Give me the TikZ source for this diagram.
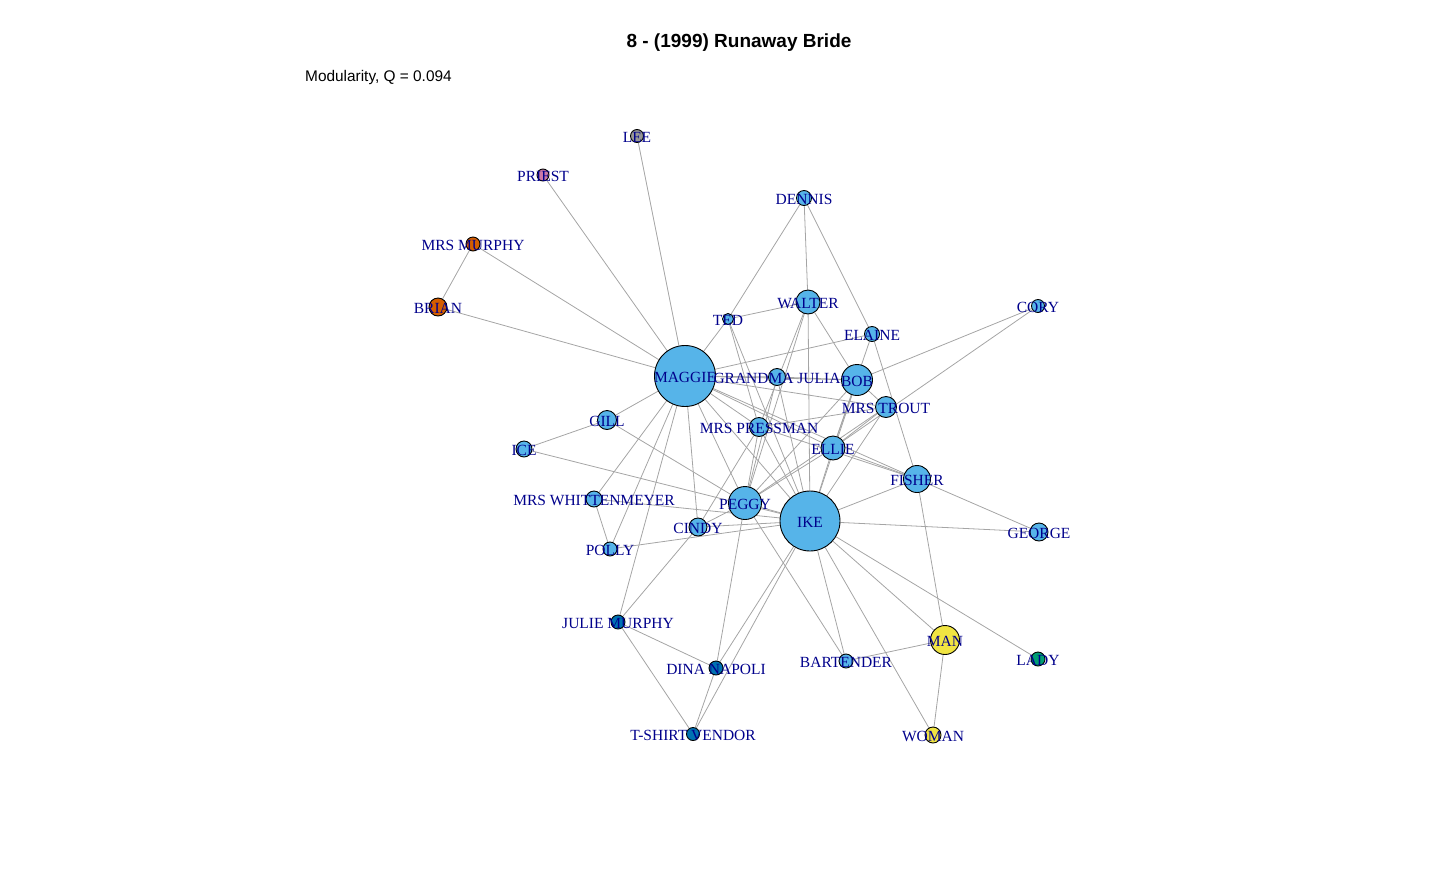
\documentclass[tikz,border=0pt]{standalone}
\usepackage{fontspec}
\setmainfont{Liberation Serif}
\newfontfamily\arialfont{Liberation Sans}
\usetikzlibrary{shapes,backgrounds}
\definecolor{skyblue}{RGB}{86,180,233}
\definecolor{deepblue}{RGB}{0,114,178}
\definecolor{vermil}{RGB}{213,94,0}
\definecolor{yell}{RGB}{240,228,66}
\definecolor{bgreen}{RGB}{0,158,115}
\definecolor{rpurple}{RGB}{204,121,167}
\definecolor{greyv}{RGB}{150,150,150}
\definecolor{edgegray}{RGB}{165,165,165}
\definecolor{lblblue}{RGB}{0,0,139}
\tikzstyle{vert}=[circle,draw=black,line width=0.9pt,inner sep=0pt]
\tikzstyle{lbl}=[text=lblblue,font=\fontsize{15.5}{18}\selectfont,inner sep=0pt,yshift=-1.5pt]
\tikzstyle{edge}=[draw=edgegray,line width=0.8pt]

\begin{document}
\begin{tikzpicture}[x=1pt,y=-1pt]
\useasboundingbox (0,0) rectangle (1440,892);
\node[font=\arialfont\bfseries\fontsize{19}{22}\selectfont] (title) at (739,42.5) {8 - (1999) Runaway Bride};
\node[anchor=west,inner sep=0pt,font=\arialfont\fontsize{15.4}{18}\selectfont] (modq) at (305,78) {Modularity, Q = 0.094};

\node[vert,fill=greyv,minimum size=13pt,label={[lbl]center:LEE}] (lee) at (637,136) {};
\node[vert,fill=rpurple,minimum size=12pt,label={[lbl]center:PRIEST}] (priest) at (543,175) {};
\node[vert,fill=vermil,minimum size=14pt,label={[lbl]center:MRS MURPHY}] (mrsmurphy) at (473,244) {};
\node[vert,fill=vermil,minimum size=18pt,label={[lbl]center:BRIAN}] (brian) at (438,307) {};
\node[vert,fill=skyblue,minimum size=15pt,label={[lbl]center:DENNIS}] (dennis) at (804,198) {};
\node[vert,fill=skyblue,minimum size=24pt,label={[lbl]center:WALTER}] (walter) at (808,302) {};
\node[vert,fill=skyblue,minimum size=11pt,label={[lbl]center:TED}] (ted) at (728,319) {};
\node[vert,fill=skyblue,minimum size=15pt,label={[lbl]center:ELAINE}] (elaine) at (872,334) {};
\node[vert,fill=skyblue,minimum size=13pt,label={[lbl]center:CORY}] (cory) at (1038,306) {};
\node[vert,fill=skyblue,minimum size=61pt,label={[lbl]center:MAGGIE}] (maggie) at (685,376) {};
\node[vert,fill=skyblue,minimum size=17pt,label={[lbl]center:GRANDMA JULIA}] (grandma) at (777,377) {};
\node[vert,fill=skyblue,minimum size=31pt,label={[lbl]center:BOB}] (bob) at (857,380) {};
\node[vert,fill=skyblue,minimum size=21pt,label={[lbl]center:MRS TROUT}] (mrstrout) at (886,407) {};
\node[vert,fill=skyblue,minimum size=19pt,label={[lbl]center:GILL}] (gill) at (607,420) {};
\node[vert,fill=skyblue,minimum size=19pt,label={[lbl]center:MRS PRESSMAN}] (pressman) at (759,427) {};
\node[vert,fill=skyblue,minimum size=16pt,label={[lbl]center:ICE}] (ice) at (524,449) {};
\node[vert,fill=skyblue,minimum size=24pt,label={[lbl]center:ELLIE}] (ellie) at (833,448) {};
\node[vert,fill=skyblue,minimum size=27pt,label={[lbl]center:FISHER}] (fisher) at (917,479) {};
\node[vert,fill=skyblue,minimum size=16pt,label={[lbl]center:MRS WHITTENMEYER}] (whitt) at (594,499) {};
\node[vert,fill=skyblue,minimum size=33pt,label={[lbl]center:PEGGY}] (peggy) at (745,503) {};
\node[vert,fill=skyblue,minimum size=60pt,label={[lbl]center:IKE}] (ike) at (810,521) {};
\node[vert,fill=skyblue,minimum size=18pt,label={[lbl]center:CINDY}] (cindy) at (698,527) {};
\node[vert,fill=skyblue,minimum size=18pt,label={[lbl]center:GEORGE}] (george) at (1039,532) {};
\node[vert,fill=skyblue,minimum size=14pt,label={[lbl]center:POLLY}] (polly) at (610,549) {};
\node[vert,fill=deepblue,minimum size=14pt,label={[lbl]center:JULIE MURPHY}] (julie) at (618,622) {};
\node[vert,fill=yell,minimum size=29pt,label={[lbl]center:MAN}] (man) at (945,640) {};
\node[vert,fill=deepblue,minimum size=14pt,label={[lbl]center:DINA NAPOLI}] (dina) at (716,668) {};
\node[vert,fill=skyblue,minimum size=14pt,label={[lbl]center:BARTENDER}] (bartender) at (846,661) {};
\node[vert,fill=bgreen,minimum size=14pt,label={[lbl]center:LADY}] (lady) at (1038,659) {};
\node[vert,fill=deepblue,minimum size=13pt,label={[lbl]center:T-SHIRT VENDOR}] (tshirt) at (693,734) {};
\node[vert,fill=yell,minimum size=16pt,label={[lbl]center:WOMAN}] (woman) at (933,735) {};

\begin{pgfonlayer}{background}
\draw[edge] (maggie) -- (lee);
\draw[edge] (maggie) -- (priest);
\draw[edge] (maggie) -- (mrsmurphy);
\draw[edge] (maggie) -- (brian);
\draw[edge] (mrsmurphy) -- (brian);
\draw[edge] (dennis) -- (ted);
\draw[edge] (ted) -- (maggie);
\draw[edge] (dennis) -- (walter);
\draw[edge] (dennis) -- (elaine);
\draw[edge] (ted) -- (walter);
\draw[edge] (ted) -- (pressman);
\draw[edge] (ted) -- (ike);
\draw[edge] (walter) -- (bob);
\draw[edge] (walter) -- (ike);
\draw[edge] (walter) -- (peggy);
\draw[edge] (walter) -- (pressman);
\draw[edge] (maggie) -- (grandma);
\draw[edge] (maggie) -- (bob);
\draw[edge] (grandma) -- (bob);
\draw[edge] (maggie) -- (elaine);
\draw[edge] (maggie) -- (mrstrout);
\draw[edge] (maggie) -- (pressman);
\draw[edge] (maggie) -- (ellie);
\draw[edge] (maggie) -- (fisher);
\draw[edge] (maggie) -- (peggy);
\draw[edge] (maggie) -- (ike);
\draw[edge] (maggie) -- (cindy);
\draw[edge] (maggie) -- (polly);
\draw[edge] (maggie) -- (whitt);
\draw[edge] (maggie) -- (julie);
\draw[edge] (maggie) -- (gill);
\draw[edge] (elaine) -- (ellie);
\draw[edge] (elaine) -- (fisher);
\draw[edge] (bob) -- (ellie);
\draw[edge] (cory) -- (bob);
\draw[edge] (cory) -- (ellie);
\draw[edge] (bob) -- (mrstrout);
\draw[edge] (bob) -- (ike);
\draw[edge] (bob) -- (peggy);
\draw[edge] (grandma) -- (ike);
\draw[edge] (grandma) -- (peggy);
\draw[edge] (mrstrout) -- (peggy);
\draw[edge] (mrstrout) -- (ike);
\draw[edge] (mrstrout) -- (ellie);
\draw[edge] (mrstrout) -- (pressman);
\draw[edge] (pressman) -- (peggy);
\draw[edge] (pressman) -- (ike);
\draw[edge] (pressman) -- (cindy);
\draw[edge] (pressman) -- (fisher);
\draw[edge] (ellie) -- (ike);
\draw[edge] (ellie) -- (peggy);
\draw[edge] (ellie) -- (fisher);
\draw[edge] (fisher) -- (ike);
\draw[edge] (fisher) -- (george);
\draw[edge] (fisher) -- (man);
\draw[edge] (ike) -- (george);
\draw[edge] (ike) -- (man);
\draw[edge] (ike) -- (lady);
\draw[edge] (ike) -- (woman);
\draw[edge] (ike) -- (bartender);
\draw[edge] (ike) -- (dina);
\draw[edge] (ike) -- (tshirt);
\draw[edge] (ike) -- (cindy);
\draw[edge] (ike) -- (polly);
\draw[edge] (ike) -- (peggy);
\draw[edge] (ike) -- (whitt);
\draw[edge] (ike) -- (ice);
\draw[edge] (man) -- (bartender);
\draw[edge] (man) -- (woman);
\draw[edge] (peggy) -- (bartender);
\draw[edge] (peggy) -- (dina);
\draw[edge] (peggy) -- (cindy);
\draw[edge] (julie) -- (dina);
\draw[edge] (julie) -- (tshirt);
\draw[edge] (julie) -- (cindy);
\draw[edge] (dina) -- (tshirt);
\draw[edge] (whitt) -- (polly);
\draw[edge] (gill) -- (ice);
\draw[edge] (gill) -- (peggy);
\end{pgfonlayer}
\end{tikzpicture}
\end{document}
